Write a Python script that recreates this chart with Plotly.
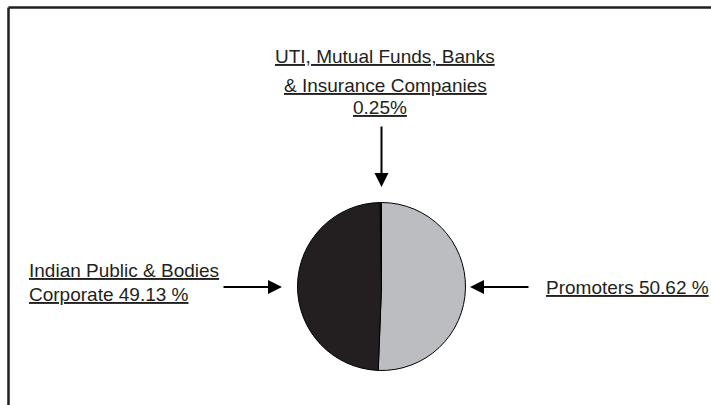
import plotly.graph_objects as go

labels = ["Promoters", "Indian Public & Bodies Corporate", "UTI, Mutual Funds, Banks & Insurance Companies"]
values = [50.62, 49.13, 0.25]
colors = ["#BCBDC0", "#231F20", "#231F20"]

W, H = 711, 405
FONT = "Liberation Sans, Arial, sans-serif"
TXT = "#231F20"


def px(x):
    return x / W


def py(y):
    return 1 - y / H


cx, cy, r = 381.5, 286.5, 84
fig = go.Figure()
fig.add_trace(go.Pie(
    labels=labels, values=values, sort=False, direction="clockwise", rotation=0,
    marker=dict(colors=colors, line=dict(color="#000000", width=1)),
    textinfo="none", hoverinfo="label+percent", showlegend=False,
    domain=dict(x=[px(cx - r), px(cx + r)], y=[py(cy + r), py(cy - r)]),
))

ann = []
U = '<span style="text-decoration:underline;text-decoration-thickness:2px;text-underline-offset:3px">'


def text(t, x, y, xanchor="center"):
    ann.append(dict(text=U + t + "</span>", x=px(x), y=py(y), xref="paper", yref="paper",
                    xanchor=xanchor, yanchor="middle", showarrow=False,
                    font=dict(family=FONT, size=19, color=TXT)))


text("UTI, Mutual Funds, Banks", 385, 56)
text("& Insurance Companies", 385, 85)
text(f"{values[2]:.2f}%", 380, 108)
text("Indian Public & Bodies", 27, 270, "left")
text(f"Corporate {values[1]:.2f} %", 27, 294, "left")
text(f"Promoters {values[0]:.2f} %", 544, 287, "left")


def arrow(x, y, ax, ay):
    ann.append(dict(text="", x=px(x), y=py(y), xref="paper", yref="paper",
                    ax=ax, ay=ay, showarrow=True, arrowhead=2, arrowsize=1.4,
                    arrowwidth=2, arrowcolor="#000000"))


arrow(381.5, 187, 0, -62)
arrow(282, 287, -60, 0)
arrow(470, 287, 60, 0)

shapes = [
    dict(type="line", xref="paper", yref="paper", x0=px(8.5), x1=1.0, y0=py(7.5), y1=py(7.5),
         line=dict(color="#231F20", width=2.5)),
    dict(type="line", xref="paper", yref="paper", x0=px(8.5), x1=px(8.5), y0=py(7.5), y1=0,
         line=dict(color="#231F20", width=2.5)),
]

fig.update_layout(width=W, height=H, margin=dict(l=0, r=0, t=0, b=0),
                  paper_bgcolor="white", plot_bgcolor="white",
                  annotations=ann, shapes=shapes)
fig.write_html("out.html", config={"displayModeBar": False},
               post_script="document.body.style.margin='0';document.body.style.overflow='hidden';")
